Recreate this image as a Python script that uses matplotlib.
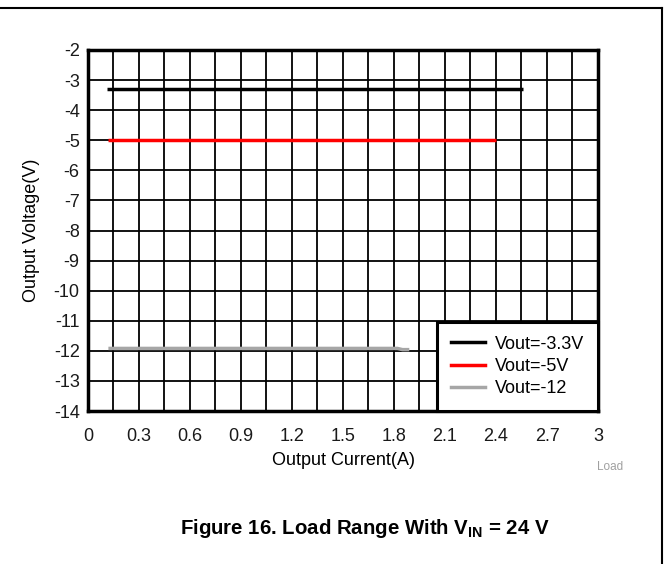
import matplotlib
matplotlib.use("Agg")
import matplotlib.pyplot as plt
import numpy as np
from matplotlib.lines import Line2D

plt.rcParams['font.family'] = ['Liberation Sans', 'DejaVu Sans']

# Data
series_labels = ["Vout=-3.3V", "Vout=-5V", "Vout=-12"]
series_colors = ["#000000", "#ff0000", "#a6a6a6"]
x_33 = [0.11, 2.56]
y_33 = [-3.3, -3.3]
x_5 = [0.12, 2.40]
y_5 = [-5.0, -5.0]
x_12 = [0.12, 1.82, 1.85, 1.89]
y_12 = [-11.92, -11.92, -11.96, -11.96]

x_ticks = [0, 0.3, 0.6, 0.9, 1.2, 1.5, 1.8, 2.1, 2.4, 2.7, 3]
x_tick_labels = ["0", "0.3", "0.6", "0.9", "1.2", "1.5", "1.8", "2.1", "2.4", "2.7", "3"]
y_ticks = list(range(-14, -1))

FS = 13

fig = plt.figure(figsize=(6.65, 5.64), dpi=100)
ax = fig.add_axes([88/665, 1-411/564, 510/665, 361/564])

ax.set_xlim(0, 3)
ax.set_ylim(-14, -2)
ax.set_xticks(x_ticks)
ax.set_xticklabels(x_tick_labels)
ax.set_xticks(np.arange(0.15, 3, 0.3), minor=True)
ax.set_yticks(y_ticks)
ax.set_yticklabels([str(v) for v in y_ticks])
ax.tick_params(which='both', length=0, labelsize=FS, colors='#1a1a1a')
ax.tick_params(axis='x', pad=12)
ax.tick_params(axis='y', pad=6)
ax.grid(True, which='both', color='#000000', linewidth=1.3)
ax.set_axisbelow(True)
for s in ax.spines.values():
    s.set_linewidth(2.5)
    s.set_color('#000000')

ax.plot(x_33, y_33, color=series_colors[0], linewidth=2.5, solid_capstyle='butt', zorder=3)
ax.plot(x_5, y_5, color=series_colors[1], linewidth=2.5, solid_capstyle='butt', zorder=3)
ax.plot(x_12, y_12, color=series_colors[2], linewidth=2.5, solid_capstyle='butt', zorder=3)

ax.set_xlabel("Output Current(A)", fontsize=FS, labelpad=5)
ax.set_ylabel("Output Voltage(V)", fontsize=FS, labelpad=10)

handles = [Line2D([0], [0], color=c, linewidth=2.5) for c in series_colors]
leg = ax.legend(handles, series_labels, loc='lower right', bbox_to_anchor=(1.0, 0.0),
                fontsize=FS, frameon=True, fancybox=False, borderaxespad=0,
                handlelength=1.9, handletextpad=0.55, labelspacing=0.3,
                borderpad=0.75)
leg.get_frame().set_edgecolor('#000000')
leg.get_frame().set_linewidth(2.2)
leg.get_frame().set_alpha(1)

fig.text(610/665, 1-467/564, "Load", fontsize=8.5, color='#a0a0a0', ha='center', va='center')
fig.text(365/665, 1-528/564, r"Figure 16. Load Range With V$_{\mathregular{IN}}$ = 24 V",
         fontsize=14.7, fontweight='bold', ha='center', va='center')

# page border (top and right)
fig.add_artist(Line2D([0, 662/665], [1-8/564, 1-8/564], color='black', linewidth=1.5, transform=fig.transFigure))
fig.add_artist(Line2D([662/665, 662/665], [1-8/564, 0], color='black', linewidth=1.5, transform=fig.transFigure))

fig.savefig("out.png", dpi=100)
